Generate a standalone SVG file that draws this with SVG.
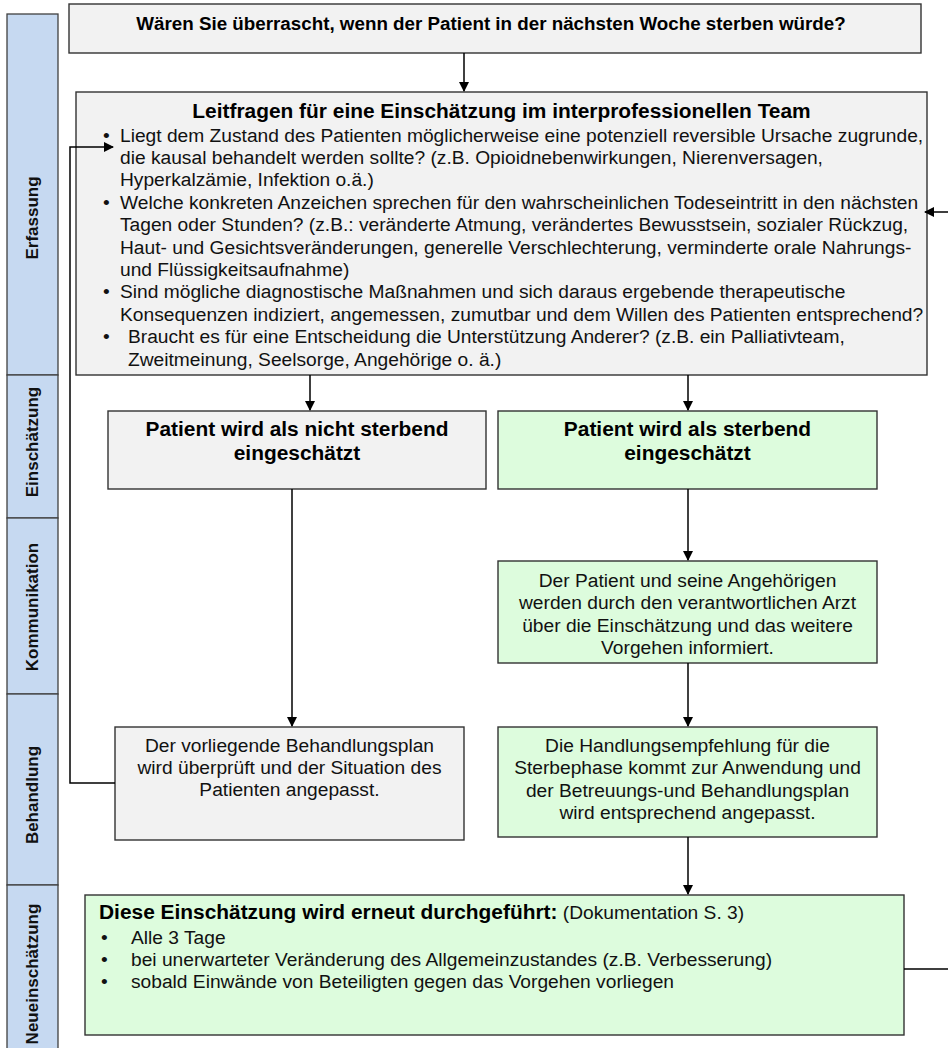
<svg xmlns="http://www.w3.org/2000/svg" width="948" height="1048" viewBox="0 0 948 1048">
<style>
.lane{fill:#c6d9f1;stroke:#404040;stroke-width:1.3}
.lt{font-family:"Liberation Sans",Arial,sans-serif;font-weight:bold;font-size:17px;fill:#111;text-anchor:middle}
.grey{fill:#f2f2f2;stroke:#333;stroke-width:1.4}
.green{fill:#ddfcdd;stroke:#333;stroke-width:1.4}
.b{font-family:"Liberation Sans",Arial,sans-serif;font-weight:bold;fill:#000}
.r{font-family:"Liberation Sans",Arial,sans-serif;font-size:19.2px;fill:#111}
.c{text-anchor:middle}
.con{fill:none;stroke:#000;stroke-width:1.5;marker-end:url(#ah)}
</style>
<defs>
<marker id="ah" markerUnits="userSpaceOnUse" markerWidth="10" markerHeight="10" refX="9" refY="5" orient="auto" viewBox="0 0 10 10">
<path d="M0,0 L10,5 L0,10 z" fill="#000"/>
</marker>
</defs>
<rect width="948" height="1048" fill="#fff"/>

<g id="lane-erfassung"><rect class="lane" x="7" y="14" width="51" height="361"/><text class="lt" transform="translate(38,218) rotate(-90)">Erfassung</text></g>
<g id="lane-einschaetzung"><rect class="lane" x="7" y="375" width="51" height="143"/><text class="lt" transform="translate(38,442) rotate(-90)">Einschätzung</text></g>
<g id="lane-kommunikation"><rect class="lane" x="7" y="518" width="51" height="176"/><text class="lt" transform="translate(38,607) rotate(-90)">Kommunikation</text></g>
<g id="lane-behandlung"><rect class="lane" x="7" y="694" width="51" height="191"/><text class="lt" transform="translate(38,795) rotate(-90)">Behandlung</text></g>
<g id="lane-neueinschaetzung"><rect class="lane" x="7" y="885" width="51" height="180"/><text class="lt" transform="translate(38,974) rotate(-90)">Neueinschätzung</text></g>

<g id="n-question">
<rect class="grey" x="69" y="4" width="852" height="49"/>
<text class="b c" x="491" y="30" font-size="18.8">Wären Sie überrascht, wenn der Patient in der nächsten Woche sterben würde?</text>
</g>

<g id="n-leitfragen">
<rect class="grey" x="76" y="92" width="851" height="283"/>
<text class="b c" x="501.5" y="118" font-size="20.9">Leitfragen für eine Einschätzung im interprofessionellen Team</text>
<g class="r">
<text x="103" y="141.5">•</text>
<text x="120" y="141.5">Liegt dem Zustand des Patienten möglicherweise eine potenziell reversible Ursache zugrunde,</text>
<text x="120" y="163.9">die kausal behandelt werden sollte? (z.B. Opioidnebenwirkungen, Nierenversagen,</text>
<text x="120" y="186.3">Hyperkalzämie, Infektion o.ä.)</text>
<text x="103" y="208.7">•</text>
<text x="120" y="208.7">Welche konkreten Anzeichen sprechen für den wahrscheinlichen Todeseintritt in den nächsten</text>
<text x="120" y="231.1">Tagen oder Stunden? (z.B.: veränderte Atmung, verändertes Bewusstsein, sozialer Rückzug,</text>
<text x="120" y="253.5">Haut- und Gesichtsveränderungen, generelle Verschlechterung, verminderte orale Nahrungs-</text>
<text x="120" y="275.9">und Flüssigkeitsaufnahme)</text>
<text x="103" y="298.3">•</text>
<text x="120" y="298.3">Sind mögliche diagnostische Maßnahmen und sich daraus ergebende therapeutische</text>
<text x="120" y="320.7">Konsequenzen indiziert, angemessen, zumutbar und dem Willen des Patienten entsprechend?</text>
<text x="103" y="343.1">•</text>
<text x="128" y="343.1">Braucht es für eine Entscheidung die Unterstützung Anderer? (z.B. ein Palliativteam,</text>
<text x="128" y="365.5">Zweitmeinung, Seelsorge, Angehörige o. ä.)</text>
</g>
</g>

<g id="n-nicht-sterbend">
<rect class="grey" x="108" y="411" width="378" height="78"/>
<text class="b c" x="297" y="436" font-size="20.9">Patient wird als nicht sterbend</text>
<text class="b c" x="297" y="460" font-size="20.9">eingeschätzt</text>
</g>

<g id="n-sterbend">
<rect class="green" x="498" y="411" width="379" height="78"/>
<text class="b c" x="687.5" y="436" font-size="20.9">Patient wird als sterbend</text>
<text class="b c" x="687.5" y="460" font-size="20.9">eingeschätzt</text>
</g>

<g id="n-information">
<rect class="green" x="498" y="561" width="379" height="102"/>
<g class="r c">
<text x="687.5" y="587">Der Patient und seine Angehörigen</text>
<text x="687.5" y="609">werden durch den verantwortlichen Arzt</text>
<text x="687.5" y="632">über die Einschätzung und das weitere</text>
<text x="687.5" y="654">Vorgehen informiert.</text>
</g>
</g>

<g id="n-behandlungsplan">
<rect class="grey" x="115" y="727" width="349" height="113"/>
<g class="r c">
<text x="289.5" y="752">Der vorliegende Behandlungsplan</text>
<text x="289.5" y="774">wird überprüft und der Situation des</text>
<text x="289.5" y="796">Patienten angepasst.</text>
</g>
</g>

<g id="n-handlungsempfehlung">
<rect class="green" x="498" y="727" width="379" height="110"/>
<g class="r c">
<text x="687.5" y="752">Die Handlungsempfehlung für die</text>
<text x="687.5" y="774">Sterbephase kommt zur Anwendung und</text>
<text x="687.5" y="797">der Betreuungs-und Behandlungsplan</text>
<text x="687.5" y="819">wird entsprechend angepasst.</text>
</g>
</g>

<g id="n-neueinschaetzung">
<rect class="green" x="85" y="895" width="819" height="140"/>
<text x="99" y="919"><tspan class="b" font-size="20.9">Diese Einschätzung wird erneut durchgeführt:</tspan><tspan class="r"> (Dokumentation S. 3)</tspan></text>
<g class="r">
<text x="101" y="944">•</text>
<text x="131" y="944">Alle 3 Tage</text>
<text x="101" y="966">•</text>
<text x="131" y="966">bei unerwarteter Veränderung des Allgemeinzustandes (z.B. Verbesserung)</text>
<text x="101" y="988">•</text>
<text x="131" y="988">sobald Einwände von Beteiligten gegen das Vorgehen vorliegen</text>
</g>
</g>

<g id="connectors">
<path class="con" d="M464,53 V91"/>
<path class="con" d="M310,375 V410"/>
<path class="con" d="M688,375 V410"/>
<path class="con" d="M292,489 V726"/>
<path class="con" d="M688,489 V560"/>
<path class="con" d="M688,663 V726"/>
<path class="con" d="M688,837 V894"/>
<path class="con" d="M115,783 H70 V147 H113"/>
<path class="con" d="M904,969 H952 V212 H925"/>
</g>
</svg>
